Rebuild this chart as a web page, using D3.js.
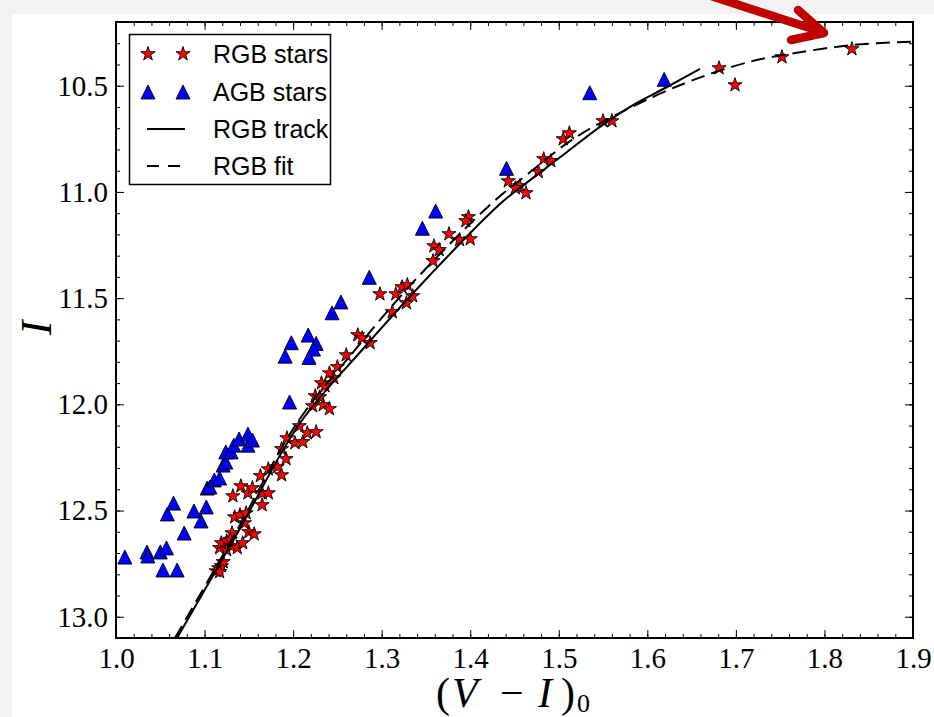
<!DOCTYPE html>
<html><head><meta charset="utf-8">
<script src="https://cdn.jsdelivr.net/npm/d3@7"></script>
<style>html,body{margin:0;padding:0;background:#f2f2f2;} svg{display:block;}</style>
</head><body>
<svg id="chart" width="934" height="717"></svg>
<script>
// ---- data ----
const rgbColor = [1.116,1.113,1.119,1.117,1.121,1.117,1.125,1.119,1.125,1.130,1.137,1.131,1.129,1.143,1.150,1.156,1.145,1.134,1.140,1.147,1.132,1.141,1.149,1.154,1.165,1.165,1.172,1.163,1.172,1.182,1.187,1.192,1.187,1.193,1.202,1.211,1.207,1.216,1.226,1.222,1.234,1.241,1.225,1.230,1.232,1.236,1.246,1.241,1.250,1.260,1.273,1.278,1.287,1.312,1.298,1.316,1.323,1.329,1.335,1.328,1.358,1.359,1.365,1.376,1.388,1.400,1.398,1.395,1.443,1.456,1.451,1.463,1.477,1.483,1.491,1.505,1.512,1.550,1.560,1.681,1.699,1.752,1.831];
const rgbMag = [12.771,12.785,12.761,12.789,12.742,12.676,12.686,12.653,12.644,12.667,12.676,12.606,12.637,12.653,12.601,12.611,12.559,12.531,12.521,12.512,12.432,12.385,12.418,12.394,12.418,12.474,12.418,12.337,12.305,12.295,12.333,12.257,12.210,12.159,12.182,12.177,12.102,12.135,12.130,12.008,12.003,12.022,11.961,11.966,11.900,11.914,11.876,11.853,11.824,11.768,11.674,11.688,11.711,11.565,11.481,11.481,11.448,11.438,11.490,11.523,11.325,11.255,11.273,11.198,11.226,11.222,11.118,11.137,10.949,10.972,10.982,11.005,10.906,10.845,10.854,10.751,10.723,10.666,10.666,10.417,10.497,10.365,10.327];

const agbColor = [1.010,1.035,1.036,1.050,1.057,1.053,1.069,1.077,1.058,1.065,1.088,1.096,1.102,1.103,1.106,1.111,1.117,1.121,1.124,1.124,1.130,1.133,1.139,1.149,1.149,1.154,1.196,1.286,1.254,1.244,1.217,1.226,1.198,1.191,1.223,1.218,1.361,1.346,1.441,1.535,1.619];
const agbMag = [12.719,12.695,12.714,12.695,12.676,12.780,12.780,12.606,12.516,12.465,12.502,12.549,12.483,12.394,12.389,12.356,12.347,12.286,12.272,12.224,12.224,12.192,12.163,12.192,12.140,12.168,11.989,11.402,11.518,11.569,11.674,11.713,11.710,11.773,11.740,11.779,11.090,11.171,10.889,10.533,10.470];

const trackColor = [1.0689,1.1378,1.2078,1.2778,1.3546,1.4336,1.4709,1.5093,1.5465,1.5838,1.6222,1.6595];
const trackMag   = [13.100,12.601,12.088,11.744,11.391,11.057,10.934,10.812,10.694,10.591,10.506,10.421];

const fitColor = [1.0666,1.1355,1.2044,1.2699,1.3395,1.4242,1.4637,1.5202,1.6067,1.6670,1.7159,1.7498,1.8322,1.9000];
const fitMag   = [13.100,12.601,12.088,11.744,11.407,11.054,10.920,10.740,10.552,10.450,10.387,10.358,10.308,10.293];

const xTicks = [1.0,1.1,1.2,1.3,1.4,1.5,1.6,1.7,1.8,1.9];
const xTickLabels = ["1.0","1.1","1.2","1.3","1.4","1.5","1.6","1.7","1.8","1.9"];
const yTicks = [10.5,11.0,11.5,12.0,12.5,13.0];
const yTickLabels = ["10.5","11.0","11.5","12.0","12.5","13.0"];
const legendLabels = ["RGB stars","AGB stars","RGB track","RGB fit"];

// ---- drawing ----
const svg = d3.select("#chart");
const L = 116, R = 913, T = 22, B = 638;
const x = d3.scaleLinear().domain([1.0, 1.9]).range([L, R]);
const y = d3.scaleLinear().domain([10.2, 13.1]).range([T, B]);

svg.append("rect").attr("x",12).attr("y",14).attr("width",934-12).attr("height",717-14).attr("fill","#fff");

svg.append("defs").append("clipPath").attr("id","clip")
  .append("rect").attr("x",L).attr("y",T).attr("width",R-L).attr("height",B-T);

const serif = "'Liberation Serif','Times New Roman',serif";
const xMinor = d3.range(1.0, 1.9001, 0.02);
const yMinor = d3.range(10.2, 13.1001, 0.1);

function styleAxis(g){ g.select(".domain").remove(); g.selectAll("line").attr("stroke","#000").attr("stroke-width",1); }

svg.append("g").attr("transform",`translate(0,${B})`)
  .call(d3.axisBottom(x).tickValues(xMinor).tickSize(-4).tickFormat("")).call(styleAxis);
svg.append("g").attr("transform",`translate(0,${T})`)
  .call(d3.axisTop(x).tickValues(xMinor).tickSize(-4).tickFormat("")).call(styleAxis);
svg.append("g").attr("transform",`translate(${L},0)`)
  .call(d3.axisLeft(y).tickValues(yMinor).tickSize(-4).tickFormat("")).call(styleAxis);
svg.append("g").attr("transform",`translate(${R},0)`)
  .call(d3.axisRight(y).tickValues(yMinor).tickSize(-4).tickFormat("")).call(styleAxis);

const gx = svg.append("g").attr("transform",`translate(0,${B})`)
  .call(d3.axisBottom(x).tickValues(xTicks).tickSize(-8).tickPadding(9).tickFormat((d,i)=>xTickLabels[i])).call(styleAxis);
svg.append("g").attr("transform",`translate(0,${T})`)
  .call(d3.axisTop(x).tickValues(xTicks).tickSize(-8).tickFormat("")).call(styleAxis);
const gy = svg.append("g").attr("transform",`translate(${L},0)`)
  .call(d3.axisLeft(y).tickValues(yTicks).tickSize(-8).tickPadding(8).tickFormat((d,i)=>yTickLabels[i])).call(styleAxis);
svg.append("g").attr("transform",`translate(${R},0)`)
  .call(d3.axisRight(y).tickValues(yTicks).tickSize(-8).tickFormat("")).call(styleAxis);
[gx, gy].forEach(g => g.selectAll("text").attr("font-family", serif).attr("font-size", 29).attr("fill","#000"));

// markers
const star = d3.symbol().type(d3.symbolStar).size(62)();
const tri = "M0,-7L7,7L-7,7Z";
const plot = svg.append("g");

plot.selectAll("path.rgb").data(rgbColor).join("path").attr("class","rgb")
  .attr("d", star).attr("transform",(d,i)=>`translate(${x(d)},${y(rgbMag[i])})`)
  .attr("fill","#ff0000").attr("stroke","#000").attr("stroke-width",0.9);
plot.selectAll("path.agb").data(agbColor).join("path").attr("class","agb")
  .attr("d", tri).attr("transform",(d,i)=>`translate(${x(d)},${y(agbMag[i])})`)
  .attr("fill","#0000ff").attr("stroke","#000").attr("stroke-width",0.9);

const line = d3.line().x(d=>x(d[0])).y(d=>y(d[1])).curve(d3.curveCatmullRom);
const lines = svg.append("g").attr("clip-path","url(#clip)");
lines.append("path").datum(trackColor.map((c,i)=>[c,trackMag[i]])).attr("d",line)
  .attr("fill","none").attr("stroke","#000").attr("stroke-width",2);
lines.append("path").datum(fitColor.map((c,i)=>[c,fitMag[i]])).attr("d",line)
  .attr("fill","none").attr("stroke","#000").attr("stroke-width",2).attr("stroke-dasharray","14,7");

// frame
svg.append("rect").attr("x",L).attr("y",T).attr("width",R-L).attr("height",B-T)
  .attr("fill","none").attr("stroke","#000").attr("stroke-width",2);

// legend
const lg = svg.append("g");
lg.append("rect").attr("x",129.5).attr("y",34.5).attr("width",201).attr("height",150)
  .attr("fill","#fff").attr("stroke","#000").attr("stroke-width",1.5);
const rows = [54, 92, 129, 166];
[148,183].forEach(px=>{
  lg.append("path").attr("d",star).attr("transform",`translate(${px},${rows[0]})`)
    .attr("fill","#ff0000").attr("stroke","#000").attr("stroke-width",0.9);
  lg.append("path").attr("d",tri).attr("transform",`translate(${px},${rows[1]})`)
    .attr("fill","#0000ff").attr("stroke","#000").attr("stroke-width",0.9);
});
lg.append("line").attr("x1",147).attr("x2",185).attr("y1",rows[2]).attr("y2",rows[2]).attr("stroke","#000").attr("stroke-width",2);
lg.append("line").attr("x1",147).attr("x2",185).attr("y1",rows[3]).attr("y2",rows[3]).attr("stroke","#000").attr("stroke-width",2).attr("stroke-dasharray","12,9");
legendLabels.forEach((t,i)=>{
  lg.append("text").attr("x",213).attr("y",rows[i]+9).text(t)
    .attr("font-family","'Liberation Sans',Arial,sans-serif").attr("font-size",25).attr("fill","#000");
});

// axis labels
svg.append("text").attr("transform","translate(51,328) rotate(-90)").attr("text-anchor","middle")
  .attr("font-family",serif).attr("font-style","italic").attr("font-size",44).text("I");
const xl = svg.append("g").attr("font-family",serif).attr("font-size",42);
xl.append("text").attr("x",436).attr("y",707).text("(");
xl.append("text").attr("x",452).attr("y",707).attr("font-style","italic").text("V");
xl.append("text").attr("x",500).attr("y",707).text("−");
xl.append("text").attr("x",538).attr("y",707).attr("font-style","italic").text("I");
xl.append("text").attr("x",561).attr("y",707).text(")");
xl.append("text").attr("x",577).attr("y",712).attr("font-size",26).text("0");

// red arrow annotation
const ar = svg.append("g").attr("stroke","#c00000").attr("stroke-width",8.5)
  .attr("stroke-linecap","round").attr("stroke-linejoin","round").attr("fill","none");
ar.append("line").attr("x1",705).attr("y1",-6).attr("x2",822).attr("y2",32);
ar.append("polyline").attr("points","798,10 824,33 791,40");
</script>
</body></html>
